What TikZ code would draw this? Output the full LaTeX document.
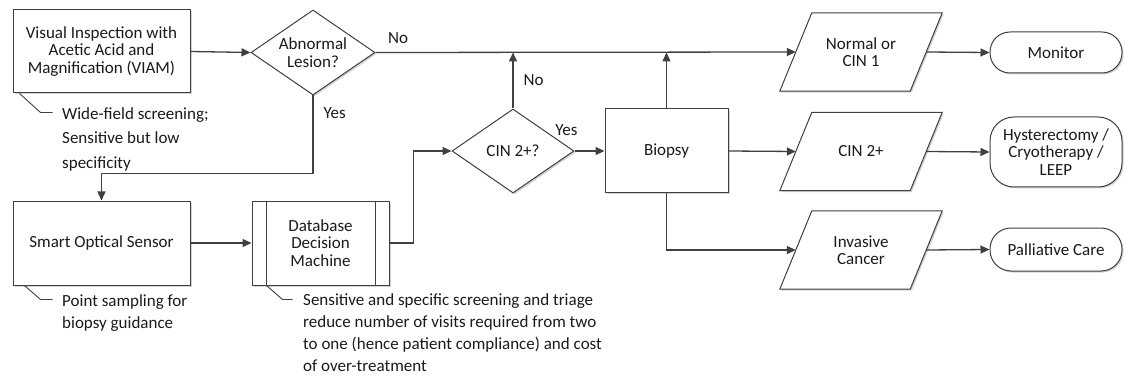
\documentclass[tikz,border=0pt]{standalone}
\usepackage{fontspec}
\setmainfont{Carlito}
\usetikzlibrary{shapes.geometric,arrows.meta,shadows,backgrounds}
\definecolor{ln}{HTML}{404040}
\definecolor{tx}{HTML}{1A1A1A}
\begin{document}
\begin{tikzpicture}[x=1pt,y=-1pt,
  shade/.style={drop shadow={shadow xshift=1.5pt,shadow yshift=-1.5pt,fill=black!30,opacity=0.6}},
  base/.style={draw=ln, line width=1pt, text=tx, font=\fontsize{17}{17.5}\selectfont,
    align=center, fill=white, inner sep=0pt, shade},
  procbox/.style={base, rectangle},
  dia/.style={base, diamond, aspect=1.46},
  parabox/.style={rectangle, minimum width=130pt, minimum height=78pt, inner sep=0pt,
    text=tx, font=\fontsize{17}{17.5}\selectfont, align=center},
  pshape/.style={draw=ln, line width=1pt, fill=white, shade},
  term/.style={base, rectangle, minimum width=132pt},
  conn/.style={draw=ln, line width=1.3pt},
  arr/.style={conn, -{Triangle[length=9pt,width=8pt]}},
  callout/.style={draw=ln, line width=0.9pt},
  lbl/.style={text=tx, font=\fontsize{17}{17.5}\selectfont, inner sep=0pt},
  note/.style={text=tx, font=\fontsize{17}{22}\selectfont, inner sep=0pt, align=left, anchor=north west}
]
\useasboundingbox (0,0) rectangle (1125,377);

% main nodes
\node[procbox, minimum width=177pt, minimum height=83pt] (viam) at (101.5,51.5) {Visual Inspection with\\Acetic Acid and\\Magnification (VIAM)};
\node[dia, minimum width=124pt, minimum height=85pt] (abn) at (313,52.5) {Abnormal\\Lesion?};
\node[procbox, minimum width=177pt, minimum height=84pt] (smart) at (101.5,243) {Smart Optical Sensor};
\node[procbox, minimum width=137pt, minimum height=84pt] (db) at (320.5,243) {Database\\Decision\\Machine};
\draw[draw=ln, line width=1pt] ([xshift=15pt]db.north west) -- ([xshift=15pt]db.south west);
\draw[draw=ln, line width=1pt] ([xshift=-14pt]db.north east) -- ([xshift=-14pt]db.south east);
\node[dia, minimum width=122pt, minimum height=84pt] (cin) at (513,151) {CIN 2+?};
\node[procbox, minimum width=123pt, minimum height=84pt] (biopsy) at (666.5,151) {Biopsy};
\node[parabox] (normal) at (861,52) {Normal or\\CIN 1};
\node[parabox] (cin2) at (861,151.5) {CIN 2+};
\node[parabox] (inv) at (861,250) {Invasive\\Cancer};
\begin{pgfonlayer}{background}
\foreach \n in {normal,cin2,inv}
  \draw[pshape] ([xshift=-16pt]\n.south west) -- ([xshift=16pt]\n.north west)
    -- ([xshift=16pt]\n.north east) -- ([xshift=-16pt]\n.south east) -- cycle;
\end{pgfonlayer}
\node[term, minimum height=41pt, rounded corners=20pt] (monitor) at (1056,52.5) {Monitor};
\node[term, minimum height=70pt, rounded corners=24pt] (hyst) at (1056,152) {Hysterectomy /\\Cryotherapy /\\LEEP};
\node[term, minimum height=43pt, rounded corners=21pt] (pall) at (1056,249.5) {Palliative Care};

% connectors
\draw[arr] (viam.east) -- (abn.west);
\draw[arr] (abn.east) -- node[lbl, at start, anchor=south west, xshift=12pt, yshift=8pt] {No} (normal.west);
\draw[arr] (abn.south) -- node[lbl, pos=0.23, anchor=west, xshift=10pt] {Yes} ++(0,78) -| (smart.north);
\draw[arr] (smart.east) -- (db.west);
\draw[arr] (db.east) -- ++(24,0) |- (cin.west);
\coordinate (j1) at (cin.north |- abn.east);
\coordinate (j2) at (biopsy.north |- abn.east);
\draw[arr] (cin.north) -- node[lbl, anchor=west, xshift=10pt] {No} (j1);
\draw[arr] (cin.east) -- node[lbl, at start, anchor=south, xshift=-8pt, yshift=15pt] {Yes} (biopsy.west);
\draw[arr] (biopsy.north) -- (j2);
\draw[arr] (biopsy.east) -- (cin2.west);
\draw[arr] (biopsy.south) |- (inv.west);
\draw[arr] (normal.east) -- (monitor.west);
\draw[arr] (cin2.east) -- (hyst.west);
\draw[arr] (inv.east) -- (pall.west);

% annotations
\node[note, font=\fontsize{17}{24.5}\selectfont] (n1) at (62,107) {Wide-field screening;\\Sensitive but low\\specificity};
\node[note] (n2) at (62,294) {Point sampling for\\biopsy guidance};
\node[note] (n3) at (303,293) {Sensitive and specific screening and triage\\reduce number of visits required from two\\to one (hence patient compliance) and cost\\of over-treatment};
\draw[callout] ([xshift=7pt]viam.south west) -- ++(21,19) -- ++(12,0);
\draw[callout] ([xshift=12pt]smart.south west) -- ++(16,14) -- ++(12,0);
\draw[callout] ([xshift=15pt]db.south west) -- ++(16,14) -- ++(10,0);
\end{tikzpicture}
\end{document}
